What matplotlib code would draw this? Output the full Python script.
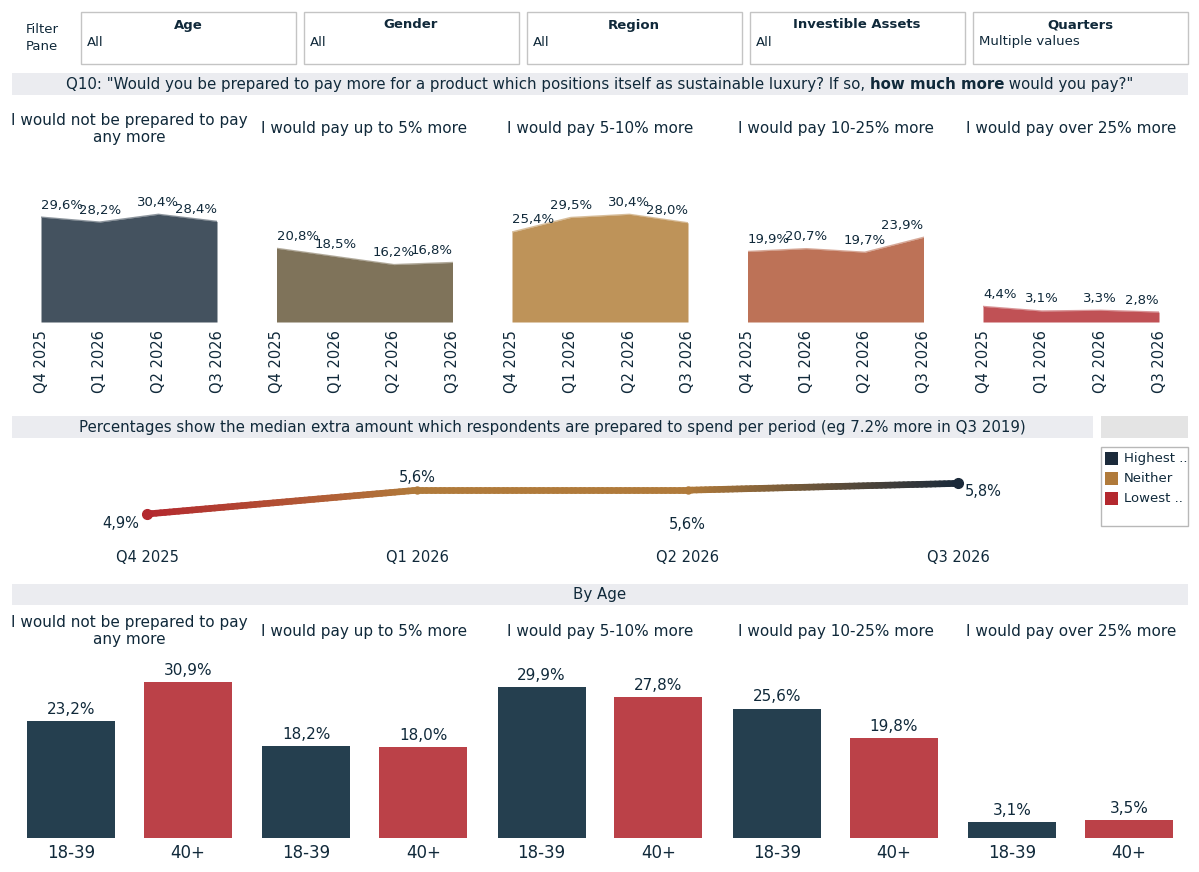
import matplotlib
matplotlib.use('Agg')
import matplotlib.pyplot as plt, numpy as np
from matplotlib.patches import Rectangle
from matplotlib.collections import LineCollection
from matplotlib.colors import to_rgb

filter_names = ["Age", "Gender", "Region", "Investible Assets", "Quarters"]
filter_values = ["All", "All", "All", "All", "Multiple values"]

answers = ["I would not be prepared to pay\nany more", "I would pay up to 5% more",
           "I would pay 5-10% more", "I would pay 10-25% more", "I would pay over 25% more"]
quarters = ["Q4 2025", "Q1 2026", "Q2 2026", "Q3 2026"]
share = [[29.6, 28.2, 30.4, 28.4],
         [20.8, 18.5, 16.2, 16.8],
         [25.4, 29.5, 30.4, 28.0],
         [19.9, 20.7, 19.7, 23.9],
         [4.4, 3.1, 3.3, 2.8]]
median_extra = [4.9, 5.6, 5.6, 5.8]
median_level = ["Lowest", "Neither", "Neither", "Highest"]
age_groups = ["18-39", "40+"]
age_share = [[23.2, 30.9], [18.2, 18.0], [29.9, 27.8], [25.6, 19.8], [3.1, 3.5]]

area_colors = ["#44525f", "#7f735a", "#be9359", "#bd7257", "#c05155"]
level_colors = {"Highest": "#1b2a3a", "Neither": "#b07a3a", "Lowest": "#b3282e"}
bar_colors = ["#253f4f", "#bb4148"]
txt = "#10293a"
band = "#ebecf0"

W, H = 1199, 872
fig = plt.figure(figsize=(W / 100, H / 100), dpi=100)


def box(x, y, w, h):
    return [x / W, 1 - (y + h) / H, w / W, h / H]


def ftext(x, y, s, **kw):
    kw.setdefault("color", txt)
    return fig.text(x / W, 1 - y / H, s, **kw)


def frect(x, y, w, h, **kw):
    fig.patches.append(Rectangle((x / W, 1 - (y + h) / H), w / W, h / H,
                                 transform=fig.transFigure, **kw))


def pct(v):
    return ("%.1f" % v).replace(".", ",") + "%"


# filter pane
ftext(42, 38, "Filter\nPane", ha="center", va="center", fontsize=9.5, linespacing=1.35,
      multialignment="center")
for i, (n, v) in enumerate(zip(filter_names, filter_values)):
    x0 = 81 + 223 * i
    frect(x0, 12, 215, 52, facecolor="white", edgecolor="#c4c4c4", lw=1)
    ftext(x0 + 107, 25, n, ha="center", va="center", fontsize=9.5, fontweight="bold")
    ftext(x0 + 6, 42, v, ha="left", va="center", fontsize=9.5)

# question banner with bold part
frect(12, 73, 1176, 22, facecolor=band, edgecolor="none")
parts = [('Q10: "Would you be prepared to pay more for a product which positions itself as sustainable luxury? If so, ', "normal"),
         ("how much more", "bold"), (' would you pay?"', "normal")]
r = fig.canvas.get_renderer()
pieces = [ftext(0, 89, p, ha="left", va="baseline", fontsize=10.8, fontweight=w) for p, w in parts]
widths = [t.get_window_extent(r).width for t in pieces]
x = 600 - sum(widths) / 2
for t, wd in zip(pieces, widths):
    t.set_x(x / W)
    x += wd

# area panels
for i in range(5):
    x0 = 41 + 235.5 * i
    ax = fig.add_axes(box(x0, 198, 176, 124))
    xs = np.arange(len(quarters))
    ax.fill_between(xs, share[i], 0, color=area_colors[i], lw=0)
    ax.plot(xs, share[i], color=area_colors[i], lw=1, alpha=0.6)
    ax.set_xlim(0, 3)
    ax.set_ylim(0, 35)
    ax.set_xticks(xs)
    ax.set_xticklabels(quarters, rotation=90, fontsize=10.5, color=txt)
    ax.tick_params(length=0, pad=6)
    ax.set_yticks([])
    for s in ax.spines.values():
        s.set_visible(False)
    for j, v in enumerate(share[i]):
        ha = "left" if j == 0 else ("right" if j == 3 else "center")
        ax.annotate(pct(v), (j, v), xytext=(0, 4), textcoords="offset points",
                    ha=ha, va="bottom", fontsize=9.5, color=txt, annotation_clip=False)
    ftext(x0 + 88, 129, answers[i], ha="center", va="center", fontsize=11, linespacing=1.2)

# median banner + legend
frect(12, 416, 1081, 22, facecolor=band, edgecolor="none")
ftext(552, 427, "Percentages show the median extra amount which respondents are prepared to spend per period (eg 7.2% more in Q3 2019)",
      ha="center", va="center", fontsize=10.8)
frect(1101, 416, 87, 22, facecolor="#e4e4e4", edgecolor="none")
frect(1101, 447, 87, 79, facecolor="white", edgecolor="#b8b8b8", lw=1)
for k, (lab, key) in enumerate([("Highest ..", "Highest"), ("Neither", "Neither"), ("Lowest ..", "Lowest")]):
    frect(1105, 452 + 20 * k, 13, 13, facecolor=level_colors[key], edgecolor="none")
    ftext(1124, 458.5 + 20 * k, lab, ha="left", va="center", fontsize=9.5)

# median line chart with gradient
ax = fig.add_axes(box(12, 469.8, 1081, 57.8))
xs = np.arange(len(median_extra))
cols = [np.array(to_rgb(level_colors[l])) for l in median_level]
segs, segc = [], []
for j in range(len(xs) - 1):
    n = 60
    t = np.linspace(0, 1, n + 1)
    px = xs[j] + (xs[j + 1] - xs[j]) * t
    py = median_extra[j] + (median_extra[j + 1] - median_extra[j]) * t
    for k in range(n):
        segs.append([(px[k], py[k]), (px[k + 1], py[k + 1])])
        segc.append(cols[j] * (1 - t[k]) + cols[j + 1] * t[k])
ax.add_collection(LineCollection(segs, colors=segc, linewidths=4.8, capstyle="round"))
for j in range(len(xs)):
    ax.plot(xs[j], median_extra[j], "o", color=cols[j], ms=7 if j in (0, 3) else 5, zorder=3)
offs = [(-6, -7, "right", "center"), (0, 4, "center", "bottom"),
        (0, -19, "center", "top"), (5, -6, "left", "center")]
for j, v in enumerate(median_extra):
    dx, dy, ha, va = offs[j]
    ax.annotate(pct(v), (xs[j], v), xytext=(dx, dy), textcoords="offset points",
                ha=ha, va=va, fontsize=10.5, color=txt, annotation_clip=False)
ax.set_xlim(-0.5, 3.5)
ax.set_ylim(4.5, 6.2)
ax.axis("off")
for j, q in enumerate(quarters):
    ftext(147 + 270.3 * j, 558, q, ha="center", va="center", fontsize=10.5)

# by age bars
frect(12, 584, 1176, 21, facecolor=band, edgecolor="none")
ftext(600, 594, "By Age", ha="center", va="center", fontsize=10.8)
ax = fig.add_axes(box(12, 661, 1176, 177))
pos, vals, colr, labs = [], [], [], []
for i in range(5):
    for g in range(2):
        pos.append(i + (g - 0.5) * 0.497)
        vals.append(age_share[i][g])
        colr.append(bar_colors[g])
        labs.append(age_groups[g])
bars = ax.bar(pos, vals, width=0.374, color=colr)
for b, v in zip(bars, vals):
    ax.annotate(pct(v), (b.get_x() + b.get_width() / 2, v), xytext=(0, 3), textcoords="offset points",
                ha="center", va="bottom", fontsize=11, color=txt, annotation_clip=False)
ax.set_xlim(-0.5, 4.5)
ax.set_ylim(0, 35)
ax.set_xticks(pos)
ax.set_xticklabels(labs, fontsize=12, color=txt)
ax.tick_params(length=0, pad=4)
ax.set_yticks([])
for s in ax.spines.values():
    s.set_visible(False)
for i in range(5):
    ftext(129 + 235.5 * i, 631, answers[i], ha="center", va="center", fontsize=11, linespacing=1.2)

plt.savefig("out.png", dpi=100)
